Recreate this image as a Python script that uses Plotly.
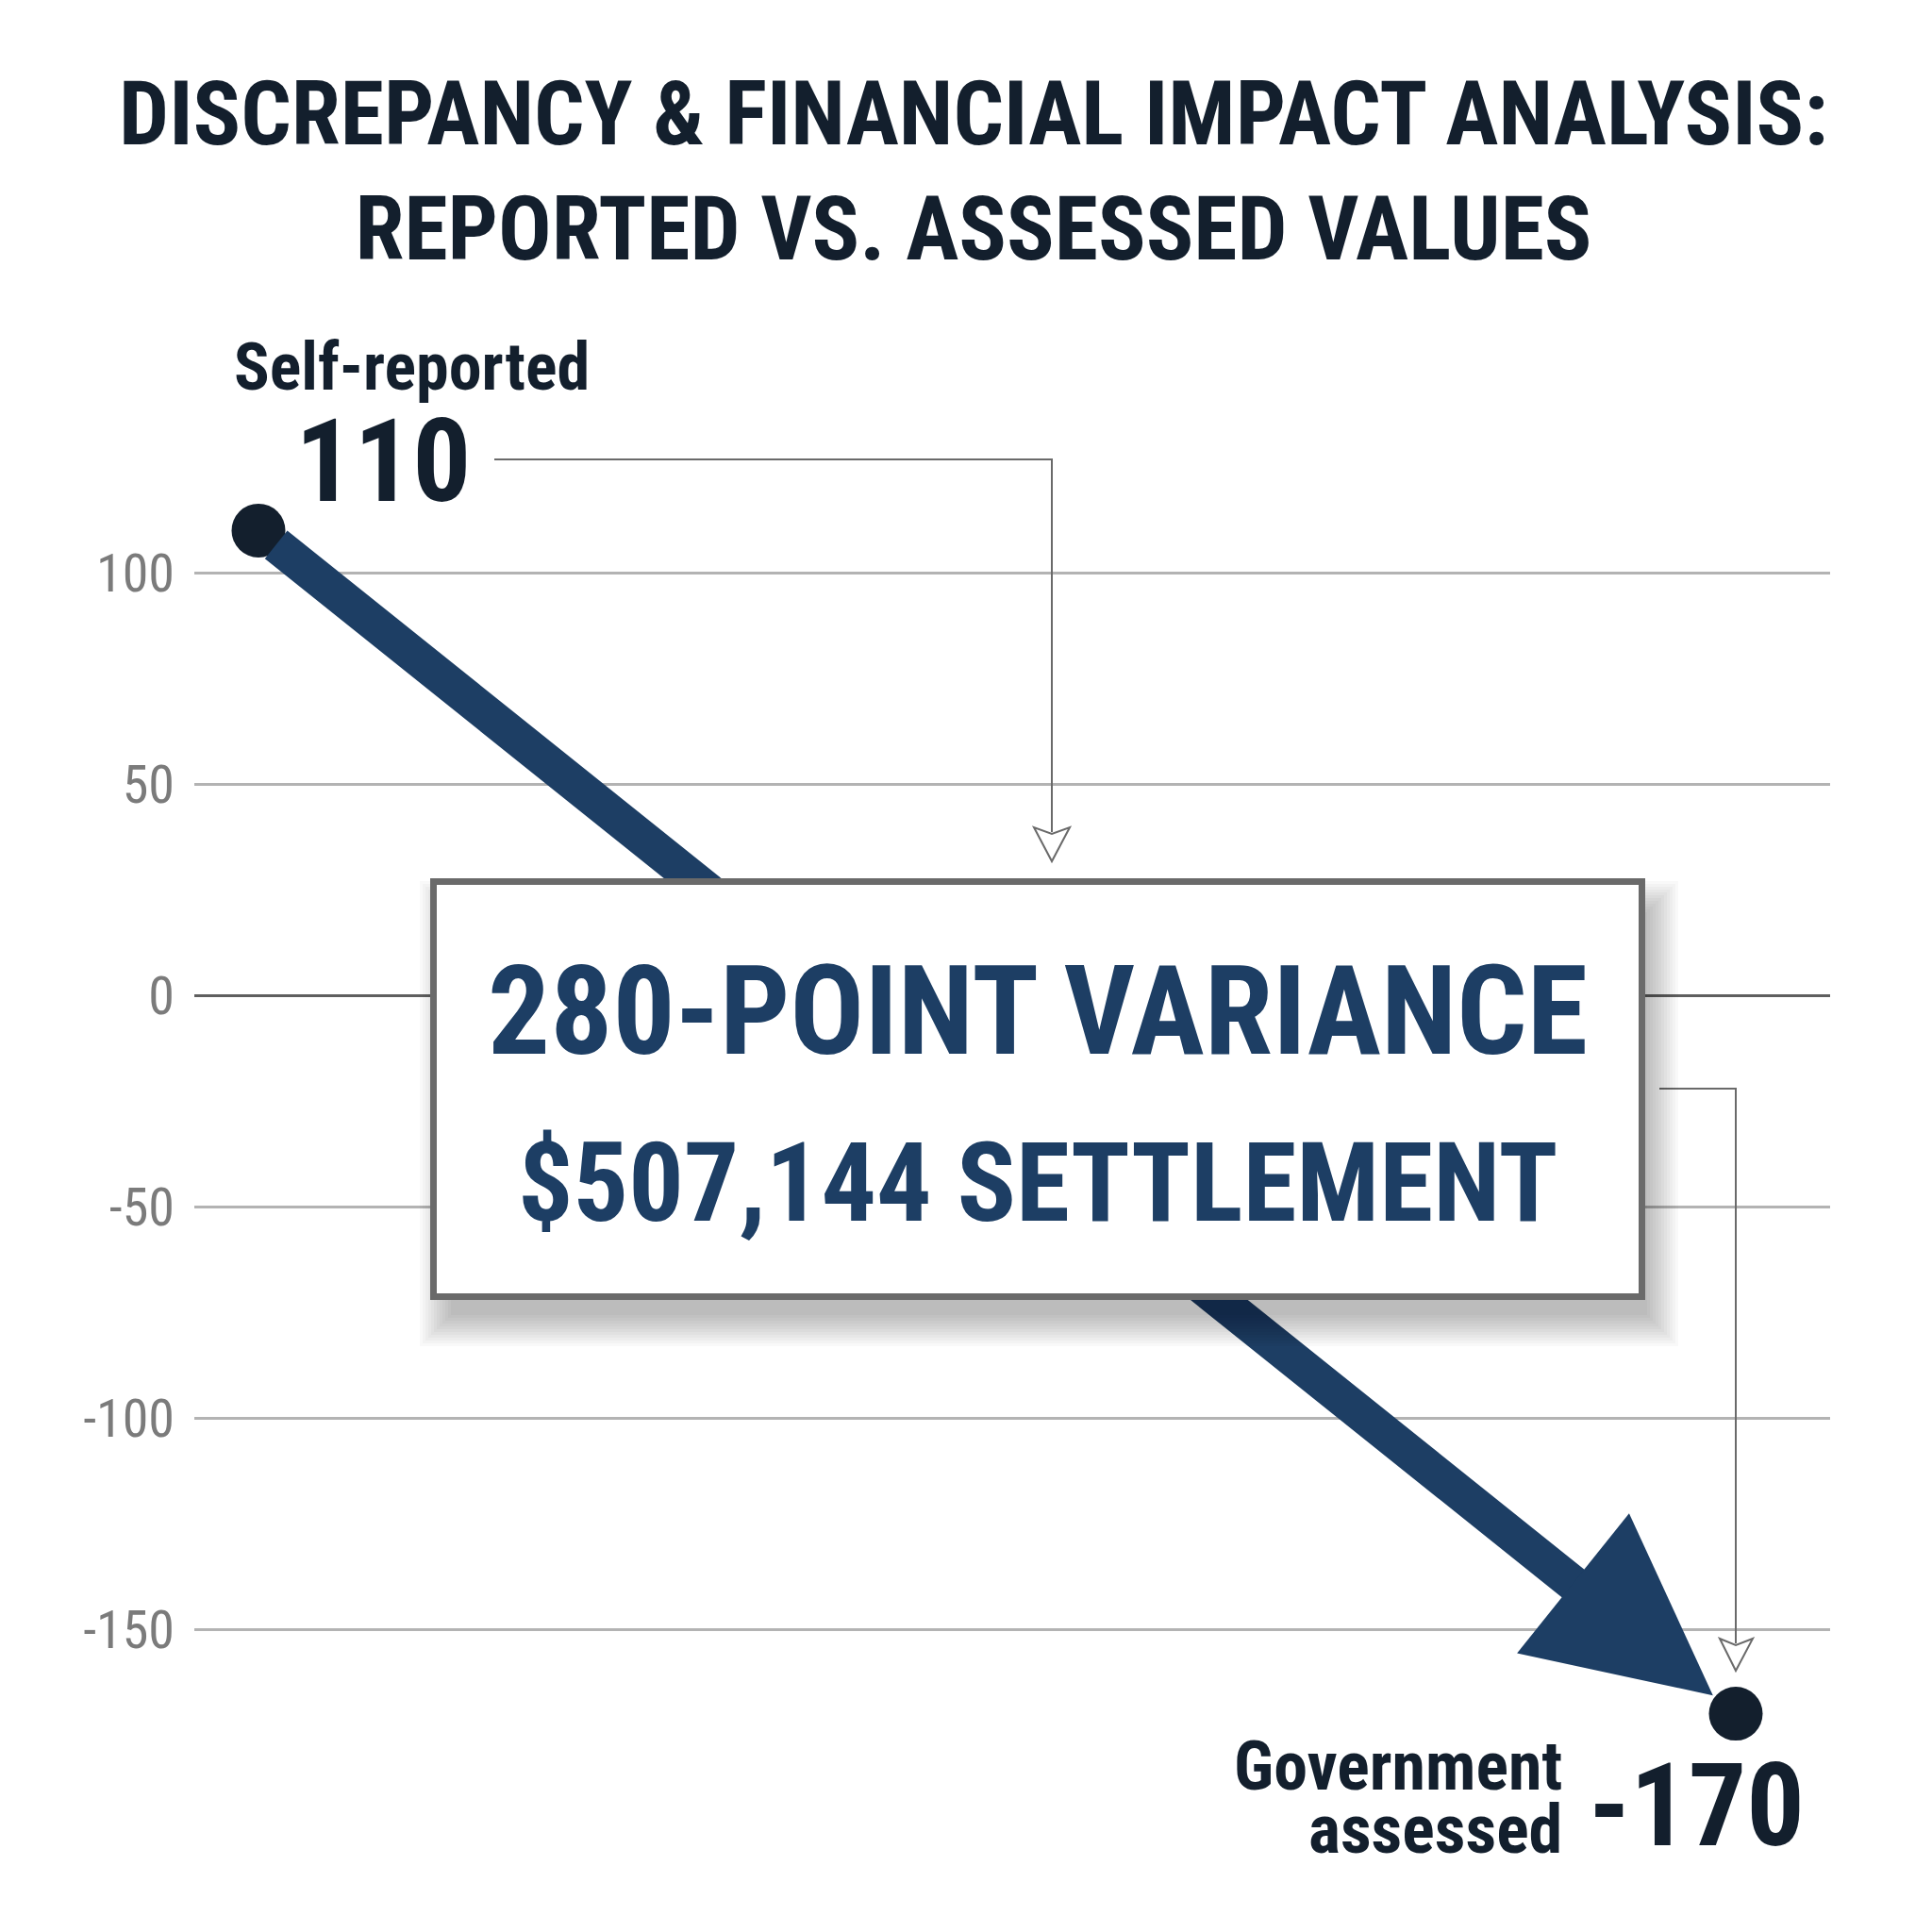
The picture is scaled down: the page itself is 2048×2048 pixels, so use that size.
import plotly.graph_objects as go

# ---------------- data ----------------
categories = ["Self-reported", "Government assessed"]
x_pos = [0, 1]
values = [110, -170]
settlement = 507144
tick_vals = [-150, -100, -50, 0, 50, 100]
tick_text = ["-150", "-100", "-50", "0", "50", "100"]

variance = values[0] - values[1]

# ---------------- layout constants ----------------
# positions below are page pixels; the page body adds an 8px offset
OFF = 8
W = H = 2048
PL, PR, PT, PB = 206, 1940, 428, 1951            # plot area on the page
ML, MR, MT, MB = PL - OFF, W - (PR - OFF), PT - OFF, H - (PB - OFF)
X0PX, X1PX = 274, 1840                           # page pixel of x=0 / x=1
XR = [(PL - X0PX) / (X1PX - X0PX), (PR - X0PX) / (X1PX - X0PX)]
YR = [-200, 140]

NAVY = "#1d3e64"
DARK = "#131f2d"
GREY = "#6a6a6a"
COND = "Roboto Condensed, Liberation Sans"


def px(xp):
    return (xp - PL) / (PR - PL)


def py(yp):
    return (PB - yp) / (PB - PT)


fig = go.Figure()

fig.add_trace(go.Scatter(
    x=x_pos, y=values, mode="markers",
    marker=dict(size=57, color=DARK),
    text=categories, hovertemplate="%{text}: %{y}<extra></extra>",
    cliponaxis=False, showlegend=False,
))

annotations = []

# main arrow
annotations.append(dict(
    x=x_pos[1], y=values[1], xref="x", yref="y",
    ax=x_pos[0], ay=values[0], axref="x", ayref="y",
    text="", showarrow=True, arrowhead=2, arrowsize=1.0, arrowwidth=38,
    arrowcolor=NAVY, standoff=31, startstandoff=22,
))

# box shadow
BX0, BX1, BY0, BY1 = 456, 1744, 931, 1378
bw, bh = BX1 - BX0, BY1 - BY0
bcx, bcy = (BX0 + BX1) / 2, (BY0 + BY1) / 2
for i in range(12):
    spread = 3 * i
    annotations.append(dict(
        x=px(bcx + 12), y=py(bcy + 26), xref="paper", yref="paper",
        xanchor="center", yanchor="middle", text=" ", showarrow=False,
        width=bw - 20 + 2 * spread, height=bh - 20 + 2 * spread,
        bgcolor="rgba(0,0,0,0.022)", borderwidth=0, borderpad=0,
    ))

# box
annotations.append(dict(
    x=px(bcx), y=py(bcy), xref="paper", yref="paper",
    xanchor="center", yanchor="middle", text=" ", showarrow=False,
    width=bw - 14, height=bh - 14, bgcolor="white",
    bordercolor=GREY, borderwidth=7, borderpad=0,
))

annotations.append(dict(
    x=px(bcx), y=py(1072), xref="paper", yref="paper",
    xanchor="center", yanchor="middle", showarrow=False,
    text=f"<b>{variance}-POINT VARIANCE</b>",
    font=dict(family=COND, size=131, color=NAVY),
))
annotations.append(dict(
    x=px(bcx), y=py(1254), xref="paper", yref="paper",
    xanchor="center", yanchor="middle", showarrow=False,
    text=f"<b>${settlement:,} SETTLEMENT</b>",
    font=dict(family=COND, size=116, color=NAVY),
))

# point labels
annotations.append(dict(
    x=px(246), y=py(389), xref="paper", yref="paper",
    xanchor="left", yanchor="middle", showarrow=False,
    text=f"<b>{categories[0]}</b>",
    font=dict(family=COND, size=70, color=DARK),
))
annotations.append(dict(
    x=px(311), y=py(489), xref="paper", yref="paper",
    xanchor="left", yanchor="middle", showarrow=False,
    text=f"<b>{values[0]}</b>",
    font=dict(family=COND, size=123, color=DARK),
))
annotations.append(dict(
    x=px(1658), y=py(1872), xref="paper", yref="paper",
    xanchor="right", yanchor="middle", showarrow=False,
    text="<b>Government</b>",
    font=dict(family=COND, size=72, color=DARK),
))
annotations.append(dict(
    x=px(1658), y=py(1939), xref="paper", yref="paper",
    xanchor="right", yanchor="middle", showarrow=False,
    text="<b>assessed</b>",
    font=dict(family=COND, size=72, color=DARK),
))
annotations.append(dict(
    x=px(1682), y=py(1914), xref="paper", yref="paper",
    xanchor="left", yanchor="middle", showarrow=False,
    text=f"<b>{values[1]}</b>",
    font=dict(family=COND, size=122, color=DARK),
))

# connector lines with open arrowheads
shapes = []
conn = dict(color=GREY, width=2)
shapes.append(dict(type="path", xref="paper", yref="paper", layer="above",
                   path=f"M{px(524)},{py(487)} L{px(1115)},{py(487)} L{px(1115)},{py(882)}",
                   line=conn))
shapes.append(dict(type="path", xref="paper", yref="paper", layer="above",
                   path=(f"M{px(1096)},{py(877)} L{px(1115)},{py(913)} L{px(1134)},{py(877)} "
                         f"L{px(1115)},{py(884)} Z"),
                   line=conn, fillcolor="white"))
shapes.append(dict(type="path", xref="paper", yref="paper", layer="above",
                   path=f"M{px(1759)},{py(1154)} L{px(1840)},{py(1154)} L{px(1840)},{py(1742)}",
                   line=conn))
shapes.append(dict(type="path", xref="paper", yref="paper", layer="above",
                   path=(f"M{px(1823)},{py(1737)} L{px(1840)},{py(1771)} L{px(1858)},{py(1737)} "
                         f"L{px(1840)},{py(1744)} Z"),
                   line=conn, fillcolor="white"))

fig.update_layout(
    width=W, height=H,
    margin=dict(l=ML, r=MR, t=MT, b=MB),
    paper_bgcolor="white", plot_bgcolor="white",
    title=dict(
        text="<b>DISCREPANCY & FINANCIAL IMPACT ANALYSIS:<br>REPORTED VS. ASSESSED VALUES</b>",
        x=0.5, xanchor="center", y=1 - (153 - OFF) / H, yanchor="middle", yref="container",
        font=dict(family=COND, size=94, color=DARK),
    ),
    xaxis=dict(range=XR, visible=False, fixedrange=True),
    yaxis=dict(
        range=YR, tickvals=tick_vals, ticktext=tick_text,
        showgrid=True, gridcolor="#b3b3b3", gridwidth=3,
        zeroline=True, zerolinecolor="#5f5f5f", zerolinewidth=3,
        showline=False, ticks="", ticklabelstandoff=20,
        tickfont=dict(family=COND, size=56, color="#7b7b7b"),
        fixedrange=True,
    ),
    annotations=annotations,
    shapes=shapes,
)

fig.write_html("out.html")
